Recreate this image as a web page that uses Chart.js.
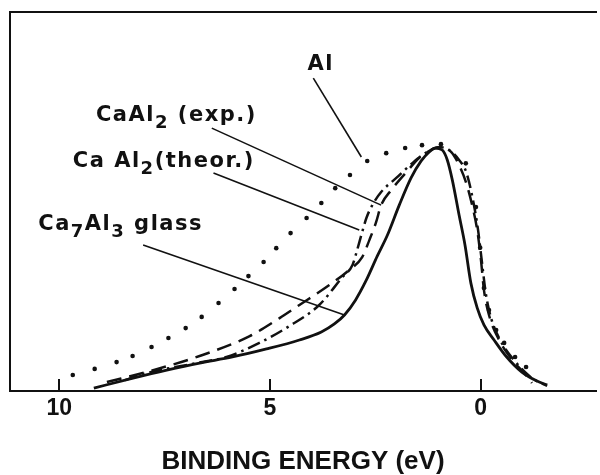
<!DOCTYPE html>
<html><head><meta charset="utf-8">
<script src="https://cdn.jsdelivr.net/npm/chart.js@4.4.1/dist/chart.umd.min.js"></script>
<style>html,body{margin:0;padding:0;background:#fff;}</style>
</head><body>
<canvas id="c" width="600" height="475"></canvas>
<script>
// ---- data (binding energy in eV, intensity normalised to peak = 1) ----
const tickValues = [10, 5, 0];
const axisTitle = 'BINDING ENERGY (eV)';

const glassEnergy = [9.18, 8.25, 7.45, 6.67, 5.89, 5.08, 4.30, 3.78, 3.47, 3.23, 2.97, 2.71, 2.45, 2.21, 1.93, 1.65, 1.41, 1.22, 1.08, 0.91, 0.79, 0.67, 0.51, 0.37, 0.23, 0.08, -0.08, -0.32, -0.60, -0.98, -1.34, -1.58];
const glassIntensity = [0.012, 0.053, 0.086, 0.115, 0.140, 0.173, 0.210, 0.243, 0.276, 0.313, 0.374, 0.457, 0.556, 0.642, 0.765, 0.877, 0.947, 0.984, 1.000, 0.992, 0.951, 0.868, 0.724, 0.601, 0.444, 0.342, 0.272, 0.210, 0.144, 0.078, 0.041, 0.025];

const expEnergy = [8.87, 7.85, 6.67, 5.48, 4.77, 4.30, 3.59, 3.12, 2.81, 2.64, 2.48, 2.36, 2.12, 1.76, 1.46, 1.17, 0.94, 0.70, 0.51, 0.34, 0.20, 0.08, -0.01, -0.08, -0.20, -0.44, -0.75, -1.03, -1.22];
const expIntensity = [0.037, 0.082, 0.144, 0.226, 0.300, 0.354, 0.436, 0.498, 0.551, 0.621, 0.695, 0.765, 0.827, 0.901, 0.959, 0.992, 1.004, 0.984, 0.930, 0.856, 0.765, 0.663, 0.539, 0.416, 0.313, 0.210, 0.128, 0.074, 0.033];

const theorEnergy = [8.44, 7.92, 6.74, 6.03, 5.25, 4.54, 3.83, 3.28, 3.04, 2.93, 2.83, 2.71, 2.57, 2.36, 2.00, 1.62, 1.27, 0.98, 0.75, 0.51, 0.34, 0.18, 0.06, -0.04, -0.13, -0.25, -0.44, -0.79, -1.22, -1.58];
const theorIntensity = [0.045, 0.074, 0.115, 0.140, 0.198, 0.267, 0.354, 0.469, 0.519, 0.580, 0.642, 0.712, 0.765, 0.819, 0.877, 0.938, 0.984, 1.004, 0.992, 0.951, 0.901, 0.786, 0.663, 0.519, 0.395, 0.300, 0.218, 0.128, 0.053, 0.021];

const alEnergy = [9.68, 9.16, 8.64, 8.26, 7.81, 7.41, 7.00, 6.62, 6.22, 5.84, 5.51, 5.15, 4.85, 4.51, 4.13, 3.78, 3.45, 3.10, 2.69, 2.24, 1.79, 1.39, 0.94, 0.35, 0.11, 0.01, -0.08, -0.20, -0.37, -0.56, -0.82, -1.08];
const alIntensity = [0.066, 0.091, 0.119, 0.144, 0.181, 0.218, 0.259, 0.305, 0.362, 0.420, 0.473, 0.531, 0.588, 0.650, 0.712, 0.774, 0.835, 0.889, 0.947, 0.979, 1.000, 1.012, 1.016, 0.937, 0.757, 0.590, 0.424, 0.333, 0.251, 0.198, 0.140, 0.099];

// labels with pointer lines, in data coordinates
const notes = [
  { parts: [['Al', 0]], at: [4.11, 1.321], from: [3.97, 1.288], to: [2.83, 0.963] },
  { parts: [['CaAl', 0], ['2', 1], [' (exp.)', 0]], at: [9.13, 1.111], from: [6.38, 1.082], to: [2.36, 0.765] },
  { parts: [['Ca Al', 0], ['2', 1], ['(theor.)', 0]], at: [9.68, 0.922], from: [6.34, 0.897], to: [2.88, 0.663] },
  { parts: [['Ca', 0], ['7', 1], ['Al', 0], ['3', 1], [' glass', 0]], at: [10.50, 0.663], from: [8.01, 0.601], to: [3.23, 0.313] }
];

const pts = (xs, ys) => xs.map((v, i) => ({ x: v, y: ys[i] }));
const INK = '#111';

const annotPlugin = {
  id: 'annot',
  afterDatasetsDraw(chart) {
    const { ctx, scales: { x, y }, chartArea } = chart;
    ctx.save();
    ctx.strokeStyle = INK; ctx.fillStyle = INK;
    ctx.lineWidth = 2;
    tickValues.forEach(v => {
      const px = Math.round(x.getPixelForValue(v));
      ctx.beginPath();
      ctx.moveTo(px, chartArea.bottom);
      ctx.lineTo(px, chartArea.bottom - 12);
      ctx.stroke();
    });
    ctx.lineWidth = 1.6;
    notes.forEach(n => {
      ctx.beginPath();
      ctx.moveTo(x.getPixelForValue(n.from[0]), y.getPixelForValue(n.from[1]));
      ctx.lineTo(x.getPixelForValue(n.to[0]), y.getPixelForValue(n.to[1]));
      ctx.stroke();
      let cx = x.getPixelForValue(n.at[0]);
      const by = y.getPixelForValue(n.at[1]);
      ctx.textAlign = 'left';
      ctx.textBaseline = 'alphabetic';
      if ('letterSpacing' in ctx) ctx.letterSpacing = '1.5px';
      n.parts.forEach(([t, sub]) => {
        ctx.font = sub ? 'bold 18px "DejaVu Sans"' : 'bold 21px "DejaVu Sans"';
        ctx.fillText(t, cx, by + (sub ? 7 : 0));
        cx += ctx.measureText(t).width;
      });
    });
    ctx.restore();
  }
};

new Chart(document.getElementById('c'), {
  type: 'line',
  data: {
    datasets: [
      { label: 'Ca7Al3 glass', data: pts(glassEnergy, glassIntensity), borderColor: INK, borderWidth: 2.8, pointRadius: 0, cubicInterpolationMode: 'monotone', fill: false },
      { label: 'CaAl2 (exp.)', data: pts(expEnergy, expIntensity), borderColor: INK, borderWidth: 2.5, borderDash: [15, 8], pointRadius: 0, cubicInterpolationMode: 'monotone', fill: false },
      { label: 'CaAl2 (theor.)', data: pts(theorEnergy, theorIntensity), borderColor: INK, borderWidth: 2.5, borderDash: [13, 5, 2.5, 5], pointRadius: 0, cubicInterpolationMode: 'monotone', fill: false },
      { label: 'Al', data: pts(alEnergy, alIntensity), showLine: false, pointRadius: 2.3, pointBorderWidth: 0, pointBackgroundColor: INK, borderColor: INK }
    ]
  },
  options: {
    responsive: false,
    animation: false,
    devicePixelRatio: 1,
    layout: { padding: { left: 10, top: 12, right: 0, bottom: 0 } },
    plugins: { legend: { display: false }, tooltip: { enabled: false } },
    scales: {
      x: {
        type: 'linear', position: 'bottom', reverse: true, min: -2.74, max: 11.17,
        afterBuildTicks: s => { s.ticks = tickValues.map(v => ({ value: v })); },
        grid: { display: false, drawTicks: false, tickLength: 0 },
        border: { display: true, color: INK, width: 2 },
        ticks: { color: INK, padding: 4, maxRotation: 0, autoSkip: false,
                 font: { family: '"Liberation Sans", Arial, sans-serif', size: 23, weight: 'bold', lineHeight: 1.2 },
                 callback: v => String(v) },
        title: { display: true, text: axisTitle, color: INK, padding: { top: 22.4, bottom: 0 },
                 font: { family: '"Liberation Sans", Arial, sans-serif', size: 26, weight: 'bold', lineHeight: 1 } }
      },
      xTop: {
        type: 'linear', position: 'top', display: true,
        grid: { display: false, drawTicks: false, tickLength: 0 }, ticks: { display: false },
        border: { display: true, color: INK, width: 2 }
      },
      y: {
        type: 'linear', position: 'left', min: 0, max: 1.56,
        grid: { display: false, drawTicks: false, tickLength: 0 }, ticks: { display: false },
        border: { display: true, color: INK, width: 2 }
      }
    }
  },
  plugins: [annotPlugin]
});
</script>
</body></html>
